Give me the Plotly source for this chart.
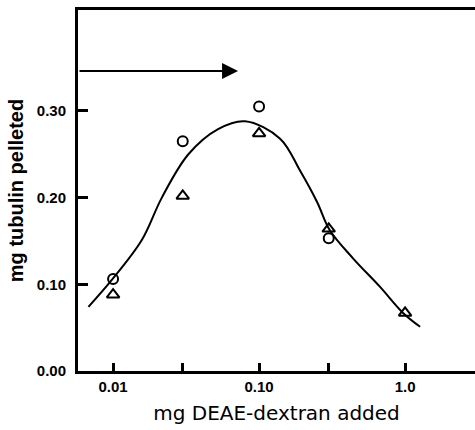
import math
import plotly.graph_objects as go

# Data
circle_x = [0.01, 0.03, 0.1, 0.3]
circle_y = [0.106, 0.265, 0.305, 0.153]
triangle_x = [0.01, 0.03, 0.1, 0.3, 1.0]
triangle_y = [0.088, 0.202, 0.274, 0.164, 0.067]

curve_x = [0.00678, 0.0098, 0.01573, 0.02158, 0.0328, 0.0524,
           0.0801, 0.1393, 0.191, 0.2496, 0.306, 0.440, 0.674, 0.969, 1.268]
curve_y = [0.074, 0.105, 0.151, 0.200, 0.250, 0.279,
           0.288, 0.268, 0.231, 0.195, 0.162, 0.130, 0.097, 0.067, 0.051]

x_tickvals = [0.01, 0.03, 0.1, 0.3, 1.0]
x_ticktext = ["0.01", "", "0.10", "", "1.0"]
y_tickvals = [0.0, 0.1, 0.2, 0.3]
y_ticktext = ["0.00", "0.10", "0.20", "0.30"]

arrow_y = 0.346
arrow_start_x = 0.00575
arrow_end_x = 0.0718

fig = go.Figure()
fig.add_trace(go.Scatter(x=curve_x, y=curve_y, mode="lines",
                         line=dict(color="black", width=2, shape="spline", smoothing=1.0),
                         hoverinfo="skip"))
fig.add_trace(go.Scatter(x=circle_x, y=circle_y, mode="markers",
                         marker=dict(symbol="circle-open", size=10, color="black",
                                     line=dict(width=2, color="black"))))
fig.add_trace(go.Scatter(x=triangle_x, y=triangle_y, mode="markers",
                         marker=dict(symbol="triangle-up-open", size=11, color="black",
                                     line=dict(width=2, color="black"))))

fig.add_annotation(x=math.log10(arrow_end_x), y=arrow_y, ax=math.log10(arrow_start_x), ay=arrow_y,
                   xref="x", yref="y", axref="x", ayref="y", text="",
                   showarrow=True, arrowhead=2, arrowsize=1.6, arrowwidth=2,
                   arrowcolor="black", standoff=0, startstandoff=0)

tickfont = dict(family="Liberation Sans", size=15, color="black", weight="bold")

fig.update_layout(
    width=475, height=430,
    margin=dict(l=78, r=0, t=10, b=59),
    paper_bgcolor="white", plot_bgcolor="white",
    showlegend=False,
    xaxis=dict(type="log", range=[math.log10(arrow_start_x), 0.479],
               tickvals=x_tickvals, ticktext=x_ticktext,
               ticks="inside", ticklen=8, tickwidth=3, tickcolor="black",
               showline=True, linewidth=3, linecolor="black", mirror=True,
               showgrid=False, zeroline=False, tickfont=tickfont, automargin=False,
               title=dict(text="mg DEAE-dextran added",
                          font=dict(family="DejaVu Sans", size=20, color="black"),
                          standoff=12)),
    yaxis=dict(range=[0, 0.4164],
               tickvals=y_tickvals, ticktext=y_ticktext,
               ticks="inside", ticklen=10, tickwidth=3, tickcolor="black",
               showline=True, linewidth=3, linecolor="black",
               showgrid=False, zeroline=False, tickfont=tickfont, automargin=False,
               ticklabelstandoff=6,
               title=dict(text="mg tubulin pelleted",
                          font=dict(family="Liberation Sans", size=20, color="black", weight="bold"),
                          standoff=8)),
)

fig.write_html("out.html", config={"displayModeBar": False},
               post_script="document.body.style.margin='0';document.body.style.overflow='hidden';")
